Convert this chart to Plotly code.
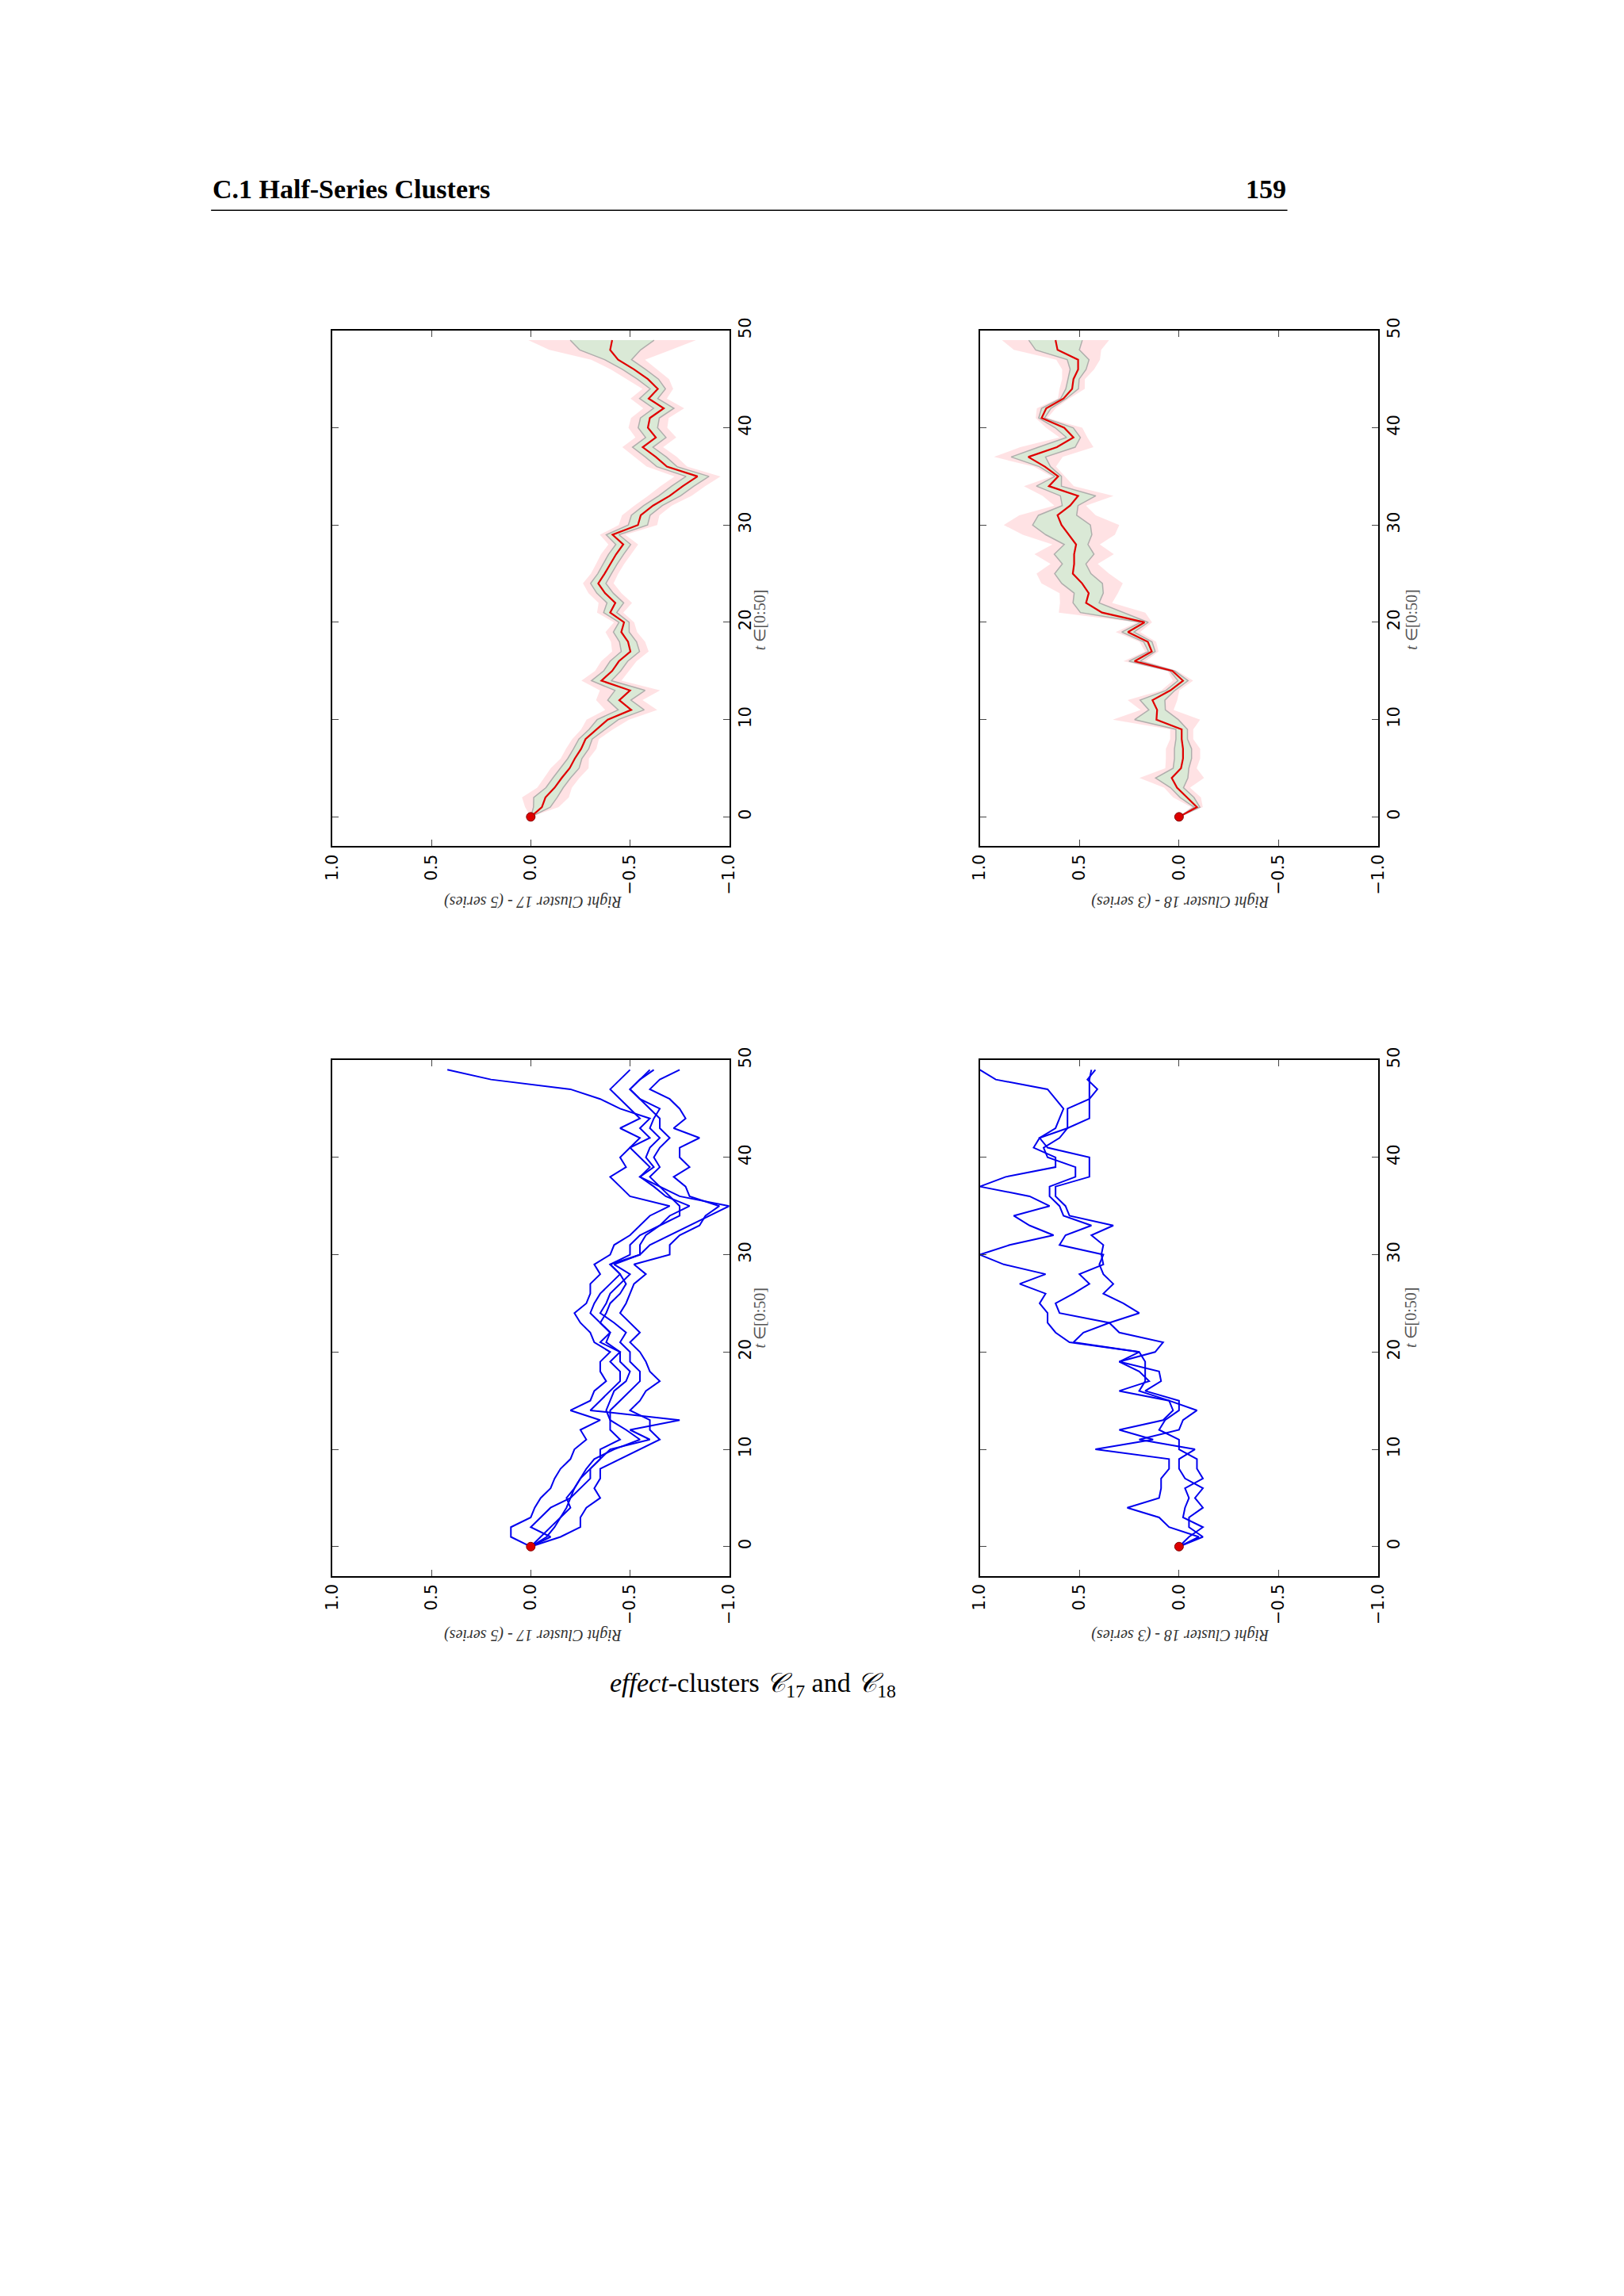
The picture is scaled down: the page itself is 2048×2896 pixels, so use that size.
import numpy as np
import plotly.graph_objects as go

t = list(range(50))

# Right Cluster 17 - 5 series
c17_a = [0, -0.05, -0.1, -0.15, -0.18, -0.2, -0.22, -0.25, -0.3, -0.35, -0.4, -0.6, -0.5, -0.75, -0.3, -0.35, -0.4, -0.45, -0.45, -0.4,
         -0.45, -0.35, -0.4, -0.35, -0.3, -0.32, -0.35, -0.4, -0.45, -0.4, -0.55, -0.6, -0.7, -0.8, -0.9, -1.0, -0.75, -0.65, -0.55, -0.6,
         -0.55, -0.5, -0.6, -0.55, -0.6, -0.45, -0.35, -0.2, 0.2, 0.42]
c17_b = [0, 0.1, 0.1, 0.0, -0.02, -0.05, -0.1, -0.12, -0.15, -0.2, -0.22, -0.28, -0.25, -0.35, -0.2, -0.3, -0.32, -0.38, -0.35, -0.35,
         -0.4, -0.32, -0.3, -0.25, -0.22, -0.28, -0.3, -0.3, -0.35, -0.32, -0.4, -0.42, -0.5, -0.55, -0.6, -0.7, -0.5, -0.45, -0.4, -0.48,
         -0.45, -0.5, -0.55, -0.45, -0.55, -0.5, -0.45, -0.4, -0.45, -0.5]
c17_c = [0, -0.1, 0.0, -0.05, -0.1, -0.2, -0.25, -0.3, -0.3, -0.35, -0.35, -0.45, -0.4, -0.4, -0.4, -0.45, -0.5, -0.55, -0.55, -0.5,
         -0.5, -0.45, -0.48, -0.42, -0.35, -0.38, -0.4, -0.45, -0.5, -0.42, -0.55, -0.55, -0.58, -0.65, -0.75, -0.75, -0.7, -0.65, -0.6, -0.65,
         -0.62, -0.65, -0.7, -0.65, -0.65, -0.6, -0.55, -0.5, -0.55, -0.6]
c17_d = [0, -0.08, -0.12, -0.15, -0.2, -0.18, -0.22, -0.25, -0.28, -0.32, -0.42, -0.55, -0.48, -0.4, -0.38, -0.4, -0.42, -0.48, -0.5, -0.45,
         -0.45, -0.38, -0.4, -0.35, -0.38, -0.4, -0.45, -0.48, -0.45, -0.4, -0.5, -0.5, -0.55, -0.65, -0.7, -0.8, -0.68, -0.62, -0.55, -0.62,
         -0.58, -0.6, -0.65, -0.6, -0.62, -0.65, -0.55, -0.5, -0.55, -0.62]
c17_e = [0, -0.15, -0.25, -0.25, -0.28, -0.35, -0.32, -0.35, -0.35, -0.45, -0.55, -0.65, -0.6, -0.6, -0.5, -0.55, -0.58, -0.65, -0.6, -0.58,
         -0.55, -0.5, -0.55, -0.5, -0.45, -0.48, -0.5, -0.52, -0.58, -0.52, -0.7, -0.7, -0.75, -0.85, -0.88, -0.95, -0.8, -0.78, -0.72, -0.8,
         -0.75, -0.75, -0.85, -0.72, -0.78, -0.75, -0.7, -0.6, -0.65, -0.75]

# Right Cluster 18 - 3 series
c18_a = [0, -0.1, 0.05, 0.1, 0.26, 0.1, 0.09, 0.09, 0.05, 0.05, 0.42, 0.13, 0.3, 0.08, 0.03, 0.05, 0.3, 0.15, 0.2, 0.3,
         0.2, 0.55, 0.62, 0.66, 0.66, 0.7, 0.67, 0.8, 0.67, 0.88, 1.0, 0.85, 0.63, 0.75, 0.83, 0.65, 0.75, 1.0, 0.87, 0.62,
         0.62, 0.73, 0.7, 0.62, 0.6, 0.58, 0.62, 0.66, 0.92, 1.0]
c18_b = [0, -0.12, -0.05, -0.05, -0.12, -0.08, -0.12, -0.03, 0.0, 0.0, -0.08, 0.2, 0.0, -0.02, -0.09, 0.05, 0.2, 0.17, 0.17, 0.17,
         0.2, 0.53, 0.48, 0.35, 0.2, 0.28, 0.38, 0.33, 0.38, 0.4, 0.38, 0.6, 0.57, 0.44, 0.58, 0.6, 0.65, 0.65, 0.52, 0.52,
         0.66, 0.68, 0.6, 0.56, 0.56, 0.56, 0.45, 0.41, 0.46, 0.42]
c18_c = [0, -0.05, -0.12, -0.02, -0.03, -0.05, -0.03, -0.12, -0.09, -0.09, 0.0, 0.0, 0.1, 0.07, 0.0, 0.0, 0.17, 0.09, 0.1, 0.3,
         0.12, 0.08, 0.3, 0.35, 0.6, 0.62, 0.53, 0.45, 0.5, 0.38, 0.39, 0.38, 0.44, 0.33, 0.55, 0.57, 0.62, 0.62, 0.45, 0.45,
         0.45, 0.66, 0.7, 0.56, 0.45, 0.45, 0.45, 0.45, 0.45, 0.44]

clusters = [(17, [c17_a, c17_b, c17_c, c17_d, c17_e]), (18, [c18_a, c18_b, c18_c])]

W, H = 2048, 2896
PW, PH = 1110, 1568  # page units used for placement


def px(v):
    return v / PW


def py(v):
    return 1 - v / PH


col_x = [(px(218.8), px(493.4)), (px(666.7), px(942.2))]
row_y = [(py(567.6), py(213.4)), (py(1068.9), py(714.6))]  # top: bands, bottom: raw lines
# nudges for the rotated labels
title_dx = [-0.055, 0.0577]
title_dy = [-0.0245, -0.0305]
tlab_dx = [0.019, 0.027]

fig = go.Figure()
tickfont = dict(family="DejaVu Sans", size=21, color="black")
serif = "Liberation Serif"

ax = 0
for ci, (num, series) in enumerate(clusters):
    arr = np.array(series)
    mean = arr.mean(axis=0)
    std = arr.std(axis=0)
    half = std / 2
    for ri in range(2):
        ax += 1
        xa = "x" if ax == 1 else f"x{ax}"
        ya = "y" if ax == 1 else f"y{ax}"
        if ri == 0:
            fig.add_trace(go.Scatter(x=mean + std, y=t, mode="lines", line=dict(width=0), xaxis=xa, yaxis=ya, showlegend=False))
            fig.add_trace(go.Scatter(x=mean - std, y=t, mode="lines", line=dict(width=0), fill="tonextx",
                                     fillcolor="rgba(255,190,195,0.45)", xaxis=xa, yaxis=ya, showlegend=False))
            fig.add_trace(go.Scatter(x=mean + half, y=t, mode="lines", line=dict(width=1.5, color="rgba(160,160,160,0.8)"),
                                     xaxis=xa, yaxis=ya, showlegend=False))
            fig.add_trace(go.Scatter(x=mean - half, y=t, mode="lines", line=dict(width=1.5, color="rgba(160,160,160,0.8)"),
                                     fill="tonextx", fillcolor="rgba(205,235,210,0.75)", xaxis=xa, yaxis=ya, showlegend=False))
            fig.add_trace(go.Scatter(x=mean, y=t, mode="lines", line=dict(width=2.2, color="#e00000"),
                                     xaxis=xa, yaxis=ya, showlegend=False))
        else:
            for s in series:
                fig.add_trace(go.Scatter(x=s, y=t, mode="lines", line=dict(width=2, color="#0000ee"),
                                         xaxis=xa, yaxis=ya, showlegend=False))
        fig.add_trace(go.Scatter(x=[0], y=[0], mode="markers", marker=dict(size=11, color="#dd0000", line=dict(width=1, color="#800000")),
                                 xaxis=xa, yaxis=ya, showlegend=False))
        xk = "xaxis" if ax == 1 else f"xaxis{ax}"
        yk = "yaxis" if ax == 1 else f"yaxis{ax}"
        fig.layout[xk] = dict(domain=col_x[ci], anchor=ya, range=[1.0, -1.0], tickvals=[1, 0.5, 0, -0.5, -1],
                              ticktext=["1.0", "0.5", "0.0", "\u22120.5", "\u22121.0"], tickangle=-90,
                              ticks="inside", ticklen=8, mirror="ticks", showline=True, linecolor="black", linewidth=2,
                              showgrid=False, zeroline=False, tickfont=tickfont)
        fig.layout[yk] = dict(domain=row_y[ri], anchor=xa, side="right", range=[-3, 50], tickvals=[0, 10, 20, 30, 40, 50],
                              tickangle=-90, ticks="inside", ticklen=8, mirror="ticks", showline=True, linecolor="black",
                              linewidth=2, showgrid=False, zeroline=False, tickfont=tickfont)
        x0, x1 = col_x[ci]
        y0, y1 = row_y[ri]
        fig.add_annotation(x=(x0 + x1) / 2 + title_dx[ci], y=y0 + title_dy[ri], xref="paper", yref="paper", showarrow=False,
                           textangle=180, text=f"<i>Right Cluster {num} - ({len(series)} series)</i>",
                           font=dict(family=serif, size=20, color="#333"))
        fig.add_annotation(x=x1 + tlab_dx[ci], y=(y0 + y1) / 2, xref="paper", yref="paper", showarrow=False, textangle=-90,
                           text="<i>t</i> \u2208[0:50]", font=dict(family=serif, size=20, color="#555"))

fig.add_annotation(x=px(135), y=py(130.8), xref="paper", yref="paper", xanchor="left", yanchor="bottom", yshift=6,
                   showarrow=False, text="<b>C.1 Half-Series Clusters</b>", font=dict(family=serif, size=34, color="black"))
fig.add_annotation(x=px(879.4), y=py(130.8), xref="paper", yref="paper", xanchor="right", yanchor="bottom", yshift=6,
                   showarrow=False, text="<b>159</b>", font=dict(family=serif, size=34, color="black"))
fig.add_shape(type="line", xref="paper", yref="paper", x0=px(135), x1=px(879.4), y0=py(130.8), y1=py(130.8),
              line=dict(color="black", width=1.5))
fig.add_annotation(x=px(510), y=py(1156), xref="paper", yref="paper", showarrow=False,
                   text="<i>effect</i>-clusters <i>\U0001D49E</i><sub>17</sub> and <i>\U0001D49E</i><sub>18</sub>",
                   font=dict(family=serif, size=34, color="black"))

fig.update_layout(width=W, height=H, margin=dict(l=0, r=0, t=0, b=0), plot_bgcolor="white", paper_bgcolor="white")
fig.write_html("out.html")
